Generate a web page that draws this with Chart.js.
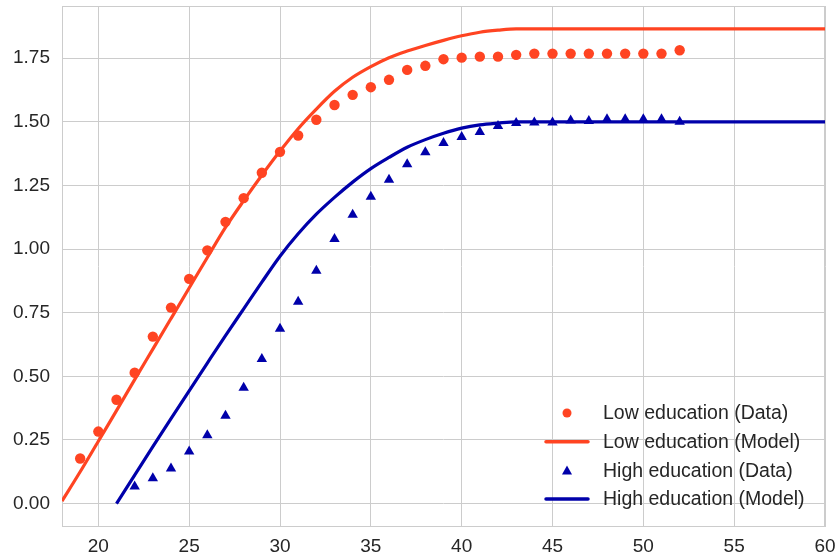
<!DOCTYPE html>
<html>
<head>
<meta charset="utf-8">
<script src="https://cdn.jsdelivr.net/npm/chart.js@4/dist/chart.umd.min.js"></script>
<style>
  html, body { margin: 0; padding: 0; background: #ffffff; }
  #wrap { width: 837px; height: 557px; position: relative; }
</style>
</head>
<body>
<div id="wrap"><canvas id="fertChart"></canvas></div>
<script>
// ages and values
var lowDataAges = [19, 20, 21, 22, 23, 24, 25, 26, 27, 28, 29, 30, 31, 32, 33, 34, 35,
    36, 37, 38, 39, 40, 41, 42, 43, 44, 45, 46, 47, 48, 49, 50, 51, 52];
var lowDataValues = [0.177, 0.283, 0.408, 0.514, 0.656, 0.770, 0.883, 0.995, 1.107, 1.200,
    1.300, 1.382, 1.446, 1.508, 1.566, 1.606, 1.636, 1.665, 1.704, 1.720, 1.746, 1.752,
    1.756, 1.756, 1.763, 1.768, 1.768, 1.768, 1.768, 1.768, 1.768, 1.768, 1.768, 1.781];

var lowModelAges = [18, 19, 20, 21, 22, 23, 24, 25, 26, 27, 28, 29, 30, 31, 32, 33, 34, 35,
    36, 37, 38, 39, 40, 41, 42, 43, 60];
var lowModelValues = [0.01, 0.125, 0.245, 0.365, 0.487, 0.607, 0.727, 0.847, 0.967, 1.085,
    1.19, 1.29, 1.385, 1.473, 1.55, 1.62, 1.675, 1.717, 1.752, 1.778, 1.80, 1.82, 1.838,
    1.852, 1.86, 1.865, 1.865];

var highDataAges = [22, 23, 24, 25, 26, 27, 28, 29, 30, 31, 32, 33, 34, 35, 36, 37, 38, 39,
    40, 41, 42, 43, 44, 45, 46, 47, 48, 49, 50, 51, 52];
var highDataValues = [0.067, 0.100, 0.138, 0.205, 0.268, 0.345, 0.455, 0.568, 0.687, 0.793,
    0.915, 1.040, 1.135, 1.206, 1.272, 1.333, 1.380, 1.417, 1.440, 1.460, 1.484, 1.495,
    1.497, 1.497, 1.505, 1.503, 1.510, 1.510, 1.510, 1.510, 1.500];

var highModelAges = [21, 22, 23, 24, 25, 26, 27, 28, 29, 30, 31, 32, 33, 34, 35, 36, 37, 38,
    39, 40, 41, 42, 43, 60];
var highModelValues = [0.0, 0.112, 0.224, 0.334, 0.443, 0.552, 0.66, 0.765, 0.87, 0.972,
    1.06, 1.137, 1.203, 1.263, 1.316, 1.36, 1.40, 1.43, 1.455, 1.475, 1.488, 1.495, 1.50, 1.50];

var xTicks = [20, 25, 30, 35, 40, 45, 50, 55, 60];
var yTicks = [0, 0.25, 0.5, 0.75, 1.0, 1.25, 1.5, 1.75];

var RED = '#ff4422';
var BLUE = '#0000aa';
var FONT = "'Liberation Sans', Arial, sans-serif";

function toPoints(xs, ys) {
    var pts = [];
    for (var i = 0; i < xs.length; i++) {
        pts.push({x: xs[i], y: ys[i]});
    }
    return pts;
}

// light grey frame round the plot, like the seaborn style
var framePlugin = {
    id: 'frame',
    beforeDatasetsDraw: function(chart) {
        var a = chart.chartArea, ctx = chart.ctx;
        ctx.save();
        ctx.strokeStyle = '#cccccc';
        ctx.lineWidth = 1;
        ctx.strokeRect(a.left + 0.5, a.top + 0.5, a.right - a.left - 1, a.bottom - a.top - 1);
        ctx.restore();
    }
};

// legend drawn inside the plot, lower right, no box
var legendPlugin = {
    id: 'innerLegend',
    afterDraw: function(chart) {
        var a = chart.chartArea, ctx = chart.ctx;
        var ds = chart.data.datasets;
        var symX = a.right - 258;
        var textX = a.right - 222;
        var rowY = a.bottom - 114;
        ctx.save();
        ctx.font = '19.5px ' + FONT;
        ctx.textBaseline = 'middle';
        ctx.textAlign = 'left';
        for (var i = 0; i < ds.length; i++) {
            var y = rowY + i * 28.7;
            var d = ds[i];
            if (d.showLine) {
                ctx.strokeStyle = d.borderColor;
                ctx.lineWidth = 3.5;
                ctx.lineCap = 'round';
                ctx.beginPath();
                ctx.moveTo(symX - 21, y);
                ctx.lineTo(symX + 21, y);
                ctx.stroke();
            } else if (d.pointStyle === 'triangle') {
                ctx.fillStyle = d.backgroundColor;
                ctx.beginPath();
                ctx.moveTo(symX, y - 5);
                ctx.lineTo(symX + 5, y + 4);
                ctx.lineTo(symX - 5, y + 4);
                ctx.closePath();
                ctx.fill();
            } else {
                ctx.fillStyle = d.backgroundColor;
                ctx.beginPath();
                ctx.arc(symX, y, 4.5, 0, Math.PI * 2);
                ctx.fill();
            }
            ctx.fillStyle = '#262626';
            ctx.fillText(d.label, textX, y + 1);
        }
        ctx.restore();
    }
};

function pageLoad() {
    var ctx = document.getElementById('fertChart');
    var fertChart = new Chart(ctx, {
        type: 'scatter',
        data: {
            datasets: [{
                label: 'Low education (Data)',
                data: toPoints(lowDataAges, lowDataValues),
                pointStyle: 'circle',
                pointRadius: 5.2,
                backgroundColor: RED,
                borderColor: RED,
                borderWidth: 0,
                showLine: false,
                order: 0
            }, {
                label: 'Low education (Model)',
                data: toPoints(lowModelAges, lowModelValues),
                showLine: true,
                pointRadius: 0,
                borderColor: RED,
                backgroundColor: RED,
                borderWidth: 3.2,
                cubicInterpolationMode: 'monotone',
                order: 2
            }, {
                label: 'High education (Data)',
                data: toPoints(highDataAges, highDataValues),
                pointStyle: 'triangle',
                pointRadius: 6,
                backgroundColor: BLUE,
                borderColor: BLUE,
                borderWidth: 0,
                showLine: false,
                order: 1
            }, {
                label: 'High education (Model)',
                data: toPoints(highModelAges, highModelValues),
                showLine: true,
                pointRadius: 0,
                borderColor: BLUE,
                backgroundColor: BLUE,
                borderWidth: 3.2,
                cubicInterpolationMode: 'monotone',
                order: 3
            }]
        },
        options: {
            responsive: true,
            maintainAspectRatio: false,
            animation: false,
            layout: { padding: { top: 6, right: 12, left: 0, bottom: 0 } },
            plugins: {
                legend: { display: false },
                tooltip: { enabled: false }
            },
            scales: {
                x: {
                    type: 'linear',
                    min: 18,
                    max: 60,
                    afterBuildTicks: function(scale) {
                        scale.ticks = xTicks.map(function(v) { return {value: v}; });
                    },
                    afterFit: function(scale) {
                        scale.height = 30;
                        scale.paddingLeft = 0;
                        scale.paddingRight = 0;
                    },
                    grid: { color: '#cccccc', lineWidth: 1, drawTicks: false },
                    border: { display: false },
                    ticks: {
                        padding: 8,
                        color: '#262626',
                        font: { family: FONT, size: 19 },
                        maxRotation: 0
                    }
                },
                y: {
                    type: 'linear',
                    min: -0.092,
                    max: 1.955,
                    afterBuildTicks: function(scale) {
                        scale.ticks = yTicks.map(function(v) { return {value: v}; });
                    },
                    afterFit: function(scale) {
                        scale.width = 62;
                        scale.paddingTop = 0;
                        scale.paddingBottom = 0;
                    },
                    grid: { color: '#cccccc', lineWidth: 1, drawTicks: false },
                    border: { display: false },
                    ticks: {
                        padding: 12,
                        color: '#262626',
                        font: { family: FONT, size: 19 },
                        callback: function(v) { return v.toFixed(2); }
                    }
                }
            }
        },
        plugins: [framePlugin, legendPlugin]
    });
}

window.onload = pageLoad;
</script>
</body>
</html>
